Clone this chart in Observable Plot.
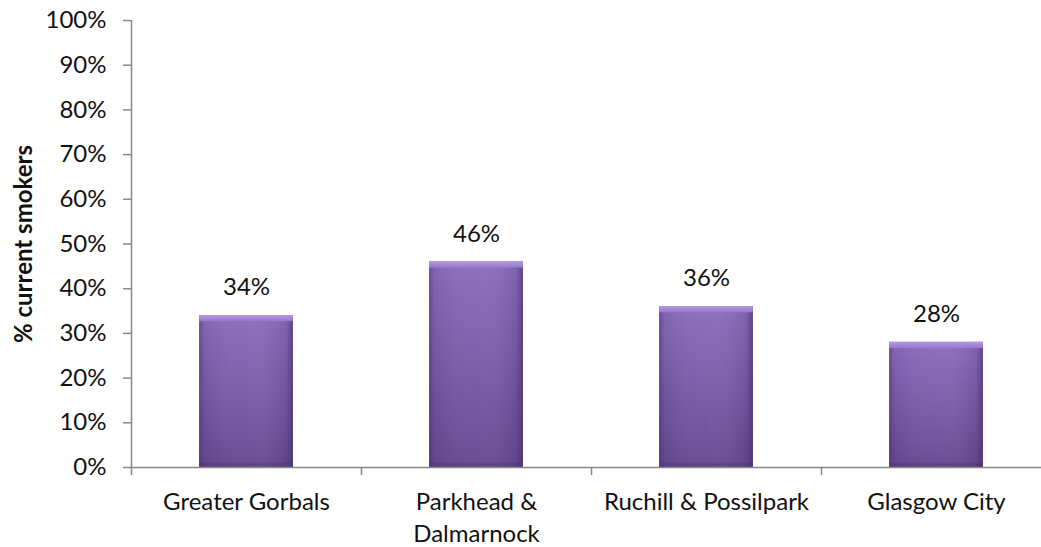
<!DOCTYPE html>
<html>
<head>
<meta charset="utf-8">
<script src="https://cdn.jsdelivr.net/npm/d3@7"></script>
<script src="https://cdn.jsdelivr.net/npm/@observablehq/plot@0.6"></script>
<style>
  html, body { margin: 0; padding: 0; background: #ffffff; }
  #chart { width: 1041px; height: 547px; overflow: hidden; }
</style>
</head>
<body>
<div id="chart"></div>
<script>
// ---- data ----
const categories = ["Greater Gorbals", "Parkhead &\nDalmarnock", "Ruchill & Possilpark", "Glasgow City"];
const values = [34, 46, 36, 28];
const yTicks = [0, 10, 20, 30, 40, 50, 60, 70, 80, 90, 100];
const yLabel = "% current smokers";

const data = categories.map((c, i) => ({i, category: c, value: values[i]}));
const boundaries = [0, 1, 2, 3, 4];
const centers = categories.map((c, i) => i + 0.5);

const FONT = "Lato, 'Liberation Sans', sans-serif";
const GRID = "#888888";

const plot = Plot.plot({
  width: 1041,
  height: 547,
  marginTop: 20,
  marginBottom: 80,
  marginLeft: 131,
  marginRight: 0,
  style: {fontFamily: FONT, fontSize: "24px", color: "#111", background: "#fff", overflow: "hidden"},
  x: {type: "linear", domain: [0, 4], range: [131, 1051]},
  y: {domain: [0, 100], label: null},
  marks: [
    // bars with shadow
    Plot.rectY(data, {x1: d => d.i + 0.296, x2: d => d.i + 0.704, y1: 0, y2: "value",
      fill: "url(#barV)", style: "filter: drop-shadow(0px 3px 3px rgba(0,0,0,0.35))"}),
    // darker side edges
    Plot.rectY(data, {x1: d => d.i + 0.296, x2: d => d.i + 0.704, y1: 0, y2: "value", fill: "url(#barH)"}),
    // bottom darker edge
    Plot.rectY(data, {x1: d => d.i + 0.296, x2: d => d.i + 0.704, y1: 0, y2: 1, fill: "#3e2a5e", fillOpacity: 0.25}),
    // top bevel highlight
    Plot.rectY(data, {x1: d => d.i + 0.296, x2: d => d.i + 0.704, y1: d => d.value - 1.4, y2: "value", fill: "url(#barTop)"}),
    // axes lines
    Plot.ruleY([0], {stroke: GRID, strokeWidth: 1.5}),
    Plot.ruleX([0], {y1: 0, y2: 100, stroke: GRID, strokeWidth: 1.5}),
    Plot.axisY({ticks: yTicks, tickFormat: d => d + "%", tickSize: 8, tickPadding: 17,
      stroke: GRID, strokeWidth: 1.5, fill: "#111", label: null, fontSize: 24}),
    Plot.axisX({ticks: boundaries, tickFormat: () => "", tickSize: 8, stroke: GRID, strokeWidth: 1.5, label: null}),
    Plot.axisX({ticks: centers, tickSize: 0, tickPadding: 19, tickFormat: d => categories[Math.floor(d)],
      fill: "#111", label: null, fontSize: 24, lineHeight: 1.35}),
    // value labels
    Plot.text(data, {x: d => d.i + 0.5, y: "value", text: d => d.value + "%", dy: -28,
      fontSize: 24, fill: "#111"}),
    // y axis title
    Plot.text([yLabel], {frameAnchor: "left", textAnchor: "middle", rotate: -90, dx: -107, text: d => d,
      fontSize: 24, fontWeight: "bold", fill: "#111"})
  ]
});

plot.insertAdjacentHTML("afterbegin", `
<defs>
  <linearGradient id="barV" x1="0" y1="0" x2="0" y2="1">
    <stop offset="0" stop-color="#8c6cbf"/>
    <stop offset="1" stop-color="#654891"/>
  </linearGradient>
  <linearGradient id="barH" x1="0" y1="0" x2="1" y2="0">
    <stop offset="0" stop-color="#3e2a5e" stop-opacity="0.45"/>
    <stop offset="0.06" stop-color="#3e2a5e" stop-opacity="0.1"/>
    <stop offset="0.5" stop-color="#ffffff" stop-opacity="0.03"/>
    <stop offset="0.93" stop-color="#3e2a5e" stop-opacity="0.15"/>
    <stop offset="1" stop-color="#3e2a5e" stop-opacity="0.6"/>
  </linearGradient>
  <linearGradient id="barTop" x1="0" y1="0" x2="0" y2="1">
    <stop offset="0" stop-color="#b597e6"/>
    <stop offset="1" stop-color="#9677c9"/>
  </linearGradient>
</defs>`);

document.getElementById("chart").appendChild(plot);
</script>
</body>
</html>
